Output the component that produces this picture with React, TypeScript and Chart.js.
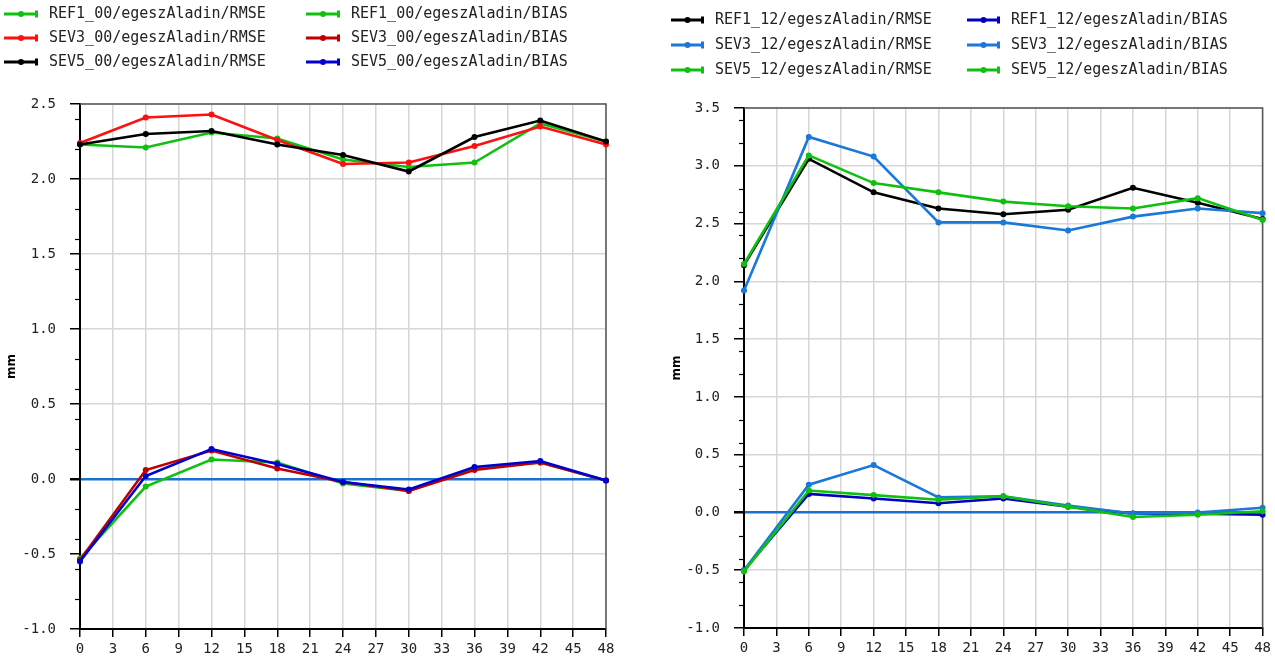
import React, { useEffect, useRef } from "react";
import { Chart, registerables } from "chart.js";

Chart.register(...registerables);

const hours = [0, 6, 12, 18, 24, 30, 36, 42, 48];

// Left chart (00 UTC runs)
const ref1_00_rmse = [2.23, 2.21, 2.31, 2.27, 2.13, 2.08, 2.11, 2.37, 2.25];
const sev3_00_rmse = [2.24, 2.41, 2.43, 2.26, 2.10, 2.11, 2.22, 2.35, 2.23];
const sev5_00_rmse = [2.23, 2.30, 2.32, 2.23, 2.16, 2.05, 2.28, 2.39, 2.25];
const ref1_00_bias = [-0.53, -0.05, 0.13, 0.11, -0.03, -0.08, 0.07, 0.11, -0.01];
const sev3_00_bias = [-0.54, 0.06, 0.19, 0.07, -0.02, -0.08, 0.06, 0.11, -0.01];
const sev5_00_bias = [-0.55, 0.02, 0.20, 0.10, -0.02, -0.07, 0.08, 0.12, -0.01];

// Right chart (12 UTC runs)
const ref1_12_rmse = [2.14, 3.06, 2.77, 2.63, 2.58, 2.62, 2.81, 2.68, 2.54];
const sev3_12_rmse = [1.92, 3.25, 3.08, 2.51, 2.51, 2.44, 2.56, 2.63, 2.59];
const sev5_12_rmse = [2.15, 3.09, 2.85, 2.77, 2.69, 2.65, 2.63, 2.72, 2.53];
const ref1_12_bias = [-0.50, 0.16, 0.12, 0.08, 0.12, 0.05, -0.01, -0.01, -0.02];
const sev3_12_bias = [-0.50, 0.24, 0.41, 0.13, 0.14, 0.06, -0.01, 0.00, 0.04];
const sev5_12_bias = [-0.51, 0.19, 0.15, 0.11, 0.14, 0.05, -0.04, -0.02, 0.01];

const leftLabels = [
  "REF1_00/egeszAladin/RMSE",
  "SEV3_00/egeszAladin/RMSE",
  "SEV5_00/egeszAladin/RMSE",
  "REF1_00/egeszAladin/BIAS",
  "SEV3_00/egeszAladin/BIAS",
  "SEV5_00/egeszAladin/BIAS",
];
const rightLabels = [
  "REF1_12/egeszAladin/RMSE",
  "SEV3_12/egeszAladin/RMSE",
  "SEV5_12/egeszAladin/RMSE",
  "REF1_12/egeszAladin/BIAS",
  "SEV3_12/egeszAladin/BIAS",
  "SEV5_12/egeszAladin/BIAS",
];

const GREEN = "#10c010";
const RED = "#ff1010";
const BLACK = "#000000";
const DARKRED = "#c00000";
const BLUE = "#0000d0";
const MIDBLUE = "#1a78d8";
const GRID = "#d6d6d6";
const ZERO = "#1a70d0";
const MONO = '"DejaVu Sans Mono", monospace';

const leftColors = [GREEN, RED, BLACK, GREEN, DARKRED, BLUE];
const rightColors = [BLACK, MIDBLUE, GREEN, "#0000c0", MIDBLUE, GREEN];

const legendPlugin = {
  id: "customLegend",
  afterDraw(chart: any, _args: any, opts: any) {
    const ctx = chart.ctx;
    const { cols, rows, textOffset, lineLen } = opts;
    chart.data.datasets.forEach((ds: any, i: number) => {
      const x = cols[Math.floor(i / 3)];
      const y = rows[i % 3];
      ctx.save();
      ctx.strokeStyle = ds.borderColor;
      ctx.fillStyle = ds.borderColor;
      ctx.lineWidth = 3;
      ctx.beginPath();
      ctx.moveTo(x, y);
      ctx.lineTo(x + lineLen, y);
      ctx.stroke();
      ctx.beginPath();
      ctx.arc(x + lineLen / 2, y, 3, 0, Math.PI * 2);
      ctx.fill();
      ctx.fillRect(x + lineLen - 3, y - 3.5, 3, 7);
      ctx.fillStyle = "#222";
      ctx.font = "15px " + MONO;
      ctx.textBaseline = "middle";
      ctx.textAlign = "left";
      ctx.fillText(ds.label, x + textOffset, y);
      ctx.restore();
    });
  },
};

const framePlugin = {
  id: "frameAndMinor",
  beforeDatasetsDraw(chart: any) {
    const ctx = chart.ctx;
    const { left, right, top, bottom } = chart.chartArea;
    const ys = chart.scales.y;
    ctx.save();
    ctx.strokeStyle = "#555";
    ctx.lineWidth = 1.5;
    ctx.beginPath();
    ctx.moveTo(left, top);
    ctx.lineTo(right, top);
    ctx.lineTo(right, bottom);
    ctx.stroke();
    ctx.strokeStyle = "#000";
    ctx.lineWidth = 1.2;
    const min = ys.min;
    const max = ys.max;
    for (let k = Math.round(min * 10); k <= Math.round(max * 10); k += 2) {
      if (k % 5 === 0) continue;
      const py = Math.round(ys.getPixelForValue(k / 10)) + 0.5;
      ctx.beginPath();
      ctx.moveTo(left - 5, py);
      ctx.lineTo(left, py);
      ctx.stroke();
    }
    ctx.restore();
  },
};

function makeDatasets(labels: string[], colors: string[], series: number[][]) {
  return series.map((vals, i) => ({
    label: labels[i],
    data: hours.map((h, j) => ({ x: h, y: vals[j] })),
    borderColor: colors[i],
    backgroundColor: colors[i],
    borderWidth: 2.6,
    pointRadius: 3,
    pointHoverRadius: 3,
    pointBorderWidth: 0,
    tension: 0,
    clip: 8,
    order: series.length - i,
  }));
}

function makeConfig(opts: {
  datasets: any[];
  yMax: number;
  yWidth: number;
  xHeight: number;
  padTop: number;
  padRight: number;
  titlePad: number;
  legend: any;
}) {
  const isZero = (c: any) => c.tick && Math.abs(c.tick.value) < 1e-9;
  return {
    type: "line",
    data: { datasets: opts.datasets },
    options: {
      animation: false,
      responsive: false,
      devicePixelRatio: 1,
      layout: { padding: { top: opts.padTop, right: opts.padRight, left: 0, bottom: 0 } },
      plugins: {
        legend: { display: false },
        tooltip: { enabled: false },
        customLegend: opts.legend,
      },
      scales: {
        x: {
          type: "linear",
          min: 0,
          max: 48,
          afterFit: (s: any) => {
            s.height = opts.xHeight;
          },
          ticks: {
            stepSize: 3,
            autoSkip: false,
            maxRotation: 0,
            color: "#222",
            padding: 4,
            font: { family: MONO, size: 14 },
          },
          grid: { color: GRID, lineWidth: 1.5, tickColor: "#000", tickLength: 8 },
          border: { color: "#000", width: 2 },
        },
        y: {
          min: -1,
          max: opts.yMax,
          afterFit: (s: any) => {
            s.width = opts.yWidth;
          },
          ticks: {
            stepSize: 0.5,
            color: "#222",
            padding: 14,
            font: { family: MONO, size: 14 },
            callback: (v: any) => Number(v).toFixed(1),
          },
          grid: {
            color: (c: any) => (isZero(c) ? ZERO : GRID),
            lineWidth: (c: any) => (isZero(c) ? 2.5 : 1.5),
            tickColor: "#000",
            tickLength: 10,
          },
          border: { color: "#000", width: 2 },
          title: {
            display: true,
            text: "mm",
            color: "#000",
            font: { family: '"DejaVu Sans", sans-serif', weight: "bold", size: 12 },
            padding: { top: opts.titlePad, bottom: 0 },
          },
        },
      },
    },
    plugins: [framePlugin, legendPlugin],
  };
}

export default function App() {
  const leftRef = useRef<HTMLCanvasElement | null>(null);
  const rightRef = useRef<HTMLCanvasElement | null>(null);

  useEffect(() => {
    const left = new Chart(
      leftRef.current as HTMLCanvasElement,
      makeConfig({
        datasets: makeDatasets(leftLabels, leftColors, [
          ref1_00_rmse,
          sev3_00_rmse,
          sev5_00_rmse,
          ref1_00_bias,
          sev3_00_bias,
          sev5_00_bias,
        ]),
        yMax: 2.5,
        yWidth: 80,
        xHeight: 34,
        padTop: 104,
        padRight: 44,
        titlePad: 5,
        legend: { cols: [4, 306], rows: [14, 38, 62], textOffset: 45, lineLen: 34 },
      }) as any
    );
    const right = new Chart(
      rightRef.current as HTMLCanvasElement,
      makeConfig({
        datasets: makeDatasets(rightLabels, rightColors, [
          ref1_12_rmse,
          sev3_12_rmse,
          sev5_12_rmse,
          ref1_12_bias,
          sev3_12_bias,
          sev5_12_bias,
        ]),
        yMax: 3.5,
        yWidth: 94,
        xHeight: 35,
        padTop: 108,
        padRight: 12,
        titlePad: 20,
        legend: { cols: [21, 317], rows: [20, 45, 70], textOffset: 44, lineLen: 33 },
      }) as any
    );
    return () => {
      left.destroy();
      right.destroy();
    };
  }, []);

  return (
    <div
      style={{
        position: "fixed",
        left: 0,
        top: 0,
        width: 1275,
        height: 663,
        background: "#fff",
        overflow: "hidden",
      }}
    >
      <canvas
        ref={leftRef}
        width={650}
        height={663}
        style={{ position: "absolute", left: 0, top: 0, width: 650, height: 663 }}
      />
      <canvas
        ref={rightRef}
        width={625}
        height={663}
        style={{ position: "absolute", left: 650, top: 0, width: 625, height: 663 }}
      />
    </div>
  );
}
